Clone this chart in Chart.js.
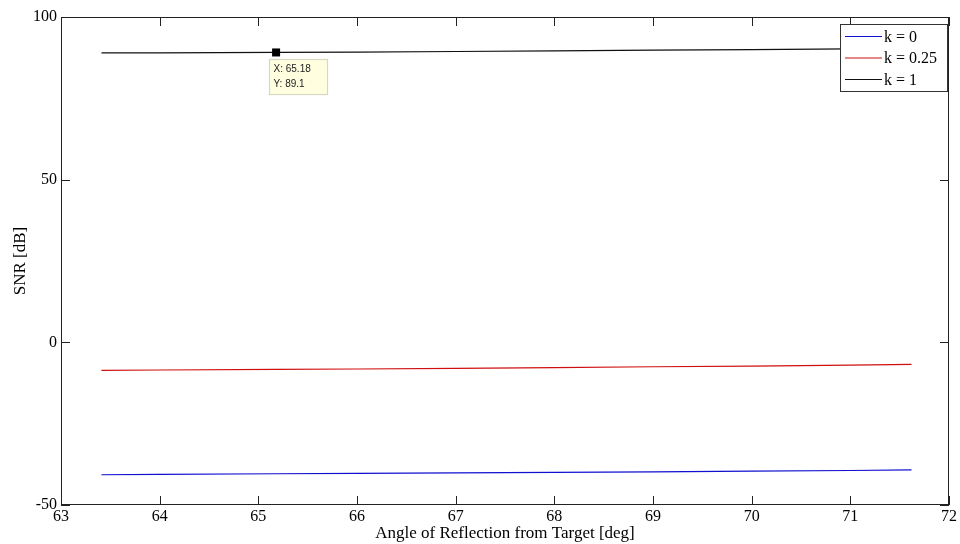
<!DOCTYPE html>
<html lang="en">
<head>
<meta charset="UTF-8">
<title>SNR vs angle</title>
<script src="https://cdn.jsdelivr.net/npm/chart.js"></script>
<style>
  html, body { margin: 0; padding: 0; background: #fff; }
  #wrap { width: 960px; height: 544px; }
</style>
</head>
<body>
<div id="wrap"><canvas id="grafica"></canvas></div>
<script>
// angles (deg)
const angles = [63.41, 64.0, 65.18, 66.0, 67.0, 68.0, 69.0, 70.0, 71.0, 71.62];
// SNR per k (dB)
const snrK0   = [-40.7, -40.6, -40.4, -40.3, -40.1, -40.0, -39.8, -39.6, -39.4, -39.2];
const snrK025 = [-8.6, -8.5, -8.3, -8.2, -8.0, -7.8, -7.5, -7.3, -7.0, -6.8];
const snrK1   = [89.0, 89.0, 89.1, 89.2, 89.4, 89.6, 89.8, 90.0, 90.2, 90.3];
const seriesNames = ["k = 0", "k = 0.25", "k = 1"];
const xTicks = [63, 64, 65, 66, 67, 68, 69, 70, 71, 72];
const yTicks = [-50, 0, 50, 100];
// data tip
const tipX = 65.18, tipY = 89.1;

const serif = "'Liberation Serif', 'Times New Roman', serif";

function puntos(ys) {
  return angles.map((a, i) => ({ x: a, y: ys[i] }));
}

// frame, inward ticks, legend and the data tip
const marco = {
  id: "marco",
  afterDraw(chart) {
    const ctx = chart.ctx;
    const a = chart.chartArea;
    const sx = chart.scales.x, sy = chart.scales.y;
    ctx.save();
    ctx.strokeStyle = "#222";
    ctx.lineWidth = 1;
    ctx.strokeRect(a.left + 0.5, a.top + 0.5, a.right - a.left - 1, a.bottom - a.top - 1);
    ctx.beginPath();
    xTicks.forEach(v => {
      const px = Math.round(sx.getPixelForValue(v)) + 0.5;
      ctx.moveTo(px, a.bottom); ctx.lineTo(px, a.bottom - 9);
      ctx.moveTo(px, a.top); ctx.lineTo(px, a.top + 9);
    });
    yTicks.forEach(v => {
      const py = Math.round(sy.getPixelForValue(v)) + 0.5;
      ctx.moveTo(a.left, py); ctx.lineTo(a.left + 9, py);
      ctx.moveTo(a.right, py); ctx.lineTo(a.right - 9, py);
    });
    ctx.stroke();

    // legend
    const lx = 840, ly = 24, lw = 107, lh = 67;
    ctx.fillStyle = "#fff";
    ctx.fillRect(lx, ly, lw, lh);
    ctx.strokeStyle = "#333";
    ctx.strokeRect(lx + 0.5, ly + 0.5, lw, lh);
    ctx.font = "16px " + serif;
    ctx.textBaseline = "middle";
    chart.data.datasets.forEach((ds, i) => {
      const y = ly + 12.5 + i * 21.5;
      ctx.strokeStyle = ds.borderColor;
      ctx.lineWidth = 1.2;
      ctx.beginPath();
      ctx.moveTo(lx + 5, y); ctx.lineTo(lx + 42, y);
      ctx.stroke();
      ctx.fillStyle = "#000";
      ctx.fillText(ds.label, lx + 44, y + 1);
    });

    // data tip
    const tx = sx.getPixelForValue(tipX), ty = sy.getPixelForValue(tipY);
    ctx.fillStyle = "#000";
    ctx.fillRect(tx - 4, ty - 4, 8, 8);
    const bx = Math.round(tx) - 6.5, by = Math.round(ty) + 7.5;
    ctx.fillStyle = "#ffffe0";
    ctx.fillRect(bx, by, 58, 35);
    ctx.strokeStyle = "#d8d8c0";
    ctx.strokeRect(bx, by, 58, 35);
    ctx.fillStyle = "#222";
    ctx.font = "10px 'Liberation Sans', Arial, sans-serif";
    ctx.textBaseline = "middle";
    ctx.fillText("X: " + tipX, bx + 4, by + 10);
    ctx.fillText("Y: " + tipY, bx + 4, by + 25);
    ctx.restore();
  }
};

new Chart(document.getElementById("grafica"), {
  type: "line",
  data: {
    datasets: [
      { label: seriesNames[0], data: puntos(snrK0), borderColor: "#1010d0", borderWidth: 1.2, pointRadius: 0, tension: 0 },
      { label: seriesNames[1], data: puntos(snrK025), borderColor: "#d01010", borderWidth: 1.2, pointRadius: 0, tension: 0 },
      { label: seriesNames[2], data: puntos(snrK1), borderColor: "#111111", borderWidth: 1.2, pointRadius: 0, tension: 0 }
    ]
  },
  options: {
    responsive: true,
    maintainAspectRatio: false,
    animation: false,
    events: [],
    layout: { padding: { top: 17, right: 11, left: 0, bottom: 0 } },
    plugins: { legend: { display: false }, tooltip: { enabled: false } },
    scales: {
      x: {
        type: "linear",
        min: 63, max: 72,
        afterBuildTicks: s => { s.ticks = xTicks.map(v => ({ value: v })); },
        afterFit: s => { s.height = 39; },
        grid: { display: false, drawTicks: false },
        border: { display: false },
        ticks: { color: "#000", font: { family: serif, size: 16 }, padding: 2, maxRotation: 0 },
        title: { display: true, text: "Angle of Reflection from Target [deg]", color: "#000", font: { family: serif, size: 17 }, padding: { top: 0, bottom: 0 } }
      },
      y: {
        min: -50, max: 100,
        afterBuildTicks: s => { s.ticks = yTicks.map(v => ({ value: v })); },
        afterFit: s => { s.width = 61; },
        grid: { display: false, drawTicks: false },
        border: { display: false },
        ticks: { color: "#000", font: { family: serif, size: 16 }, padding: 4 },
        title: { display: true, text: "SNR [dB]", color: "#000", font: { family: serif, size: 17 }, padding: { top: 10, bottom: 4 } }
      }
    }
  },
  plugins: [marco]
});
</script>
</body>
</html>
